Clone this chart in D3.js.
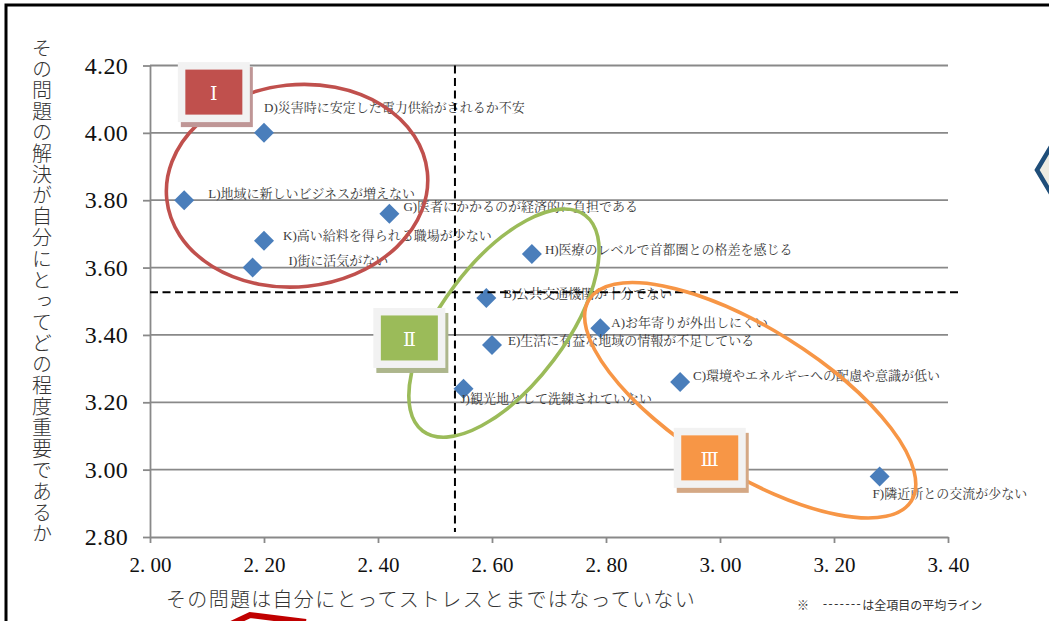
<!DOCTYPE html>
<html>
<head>
<meta charset="utf-8">
<script src="https://cdn.jsdelivr.net/npm/d3@7"></script>
<style>
  html, body { margin: 0; padding: 0; background: #fff; }
  svg { display: block; }
</style>
</head>
<body>
<svg id="chart" width="1049" height="621"></svg>
<script>
// Survey items: how much stress each local problem causes (x) vs. how important solving it is (y)
const itemLabels = [
  "A)お年寄りが外出しにくい",
  "B)公共交通機関が十分でない",
  "C)環境やエネルギーへの配慮や意識が低い",
  "D)災害時に安定した電力供給がされるか不安",
  "E)生活に有益な地域の情報が不足している",
  "F)隣近所との交流が少ない",
  "G)医者にかかるのが経済的に負担である",
  "H)医療のレベルで首都圏との格差を感じる",
  "I)街に活気がない",
  "J)観光地として洗練されていない",
  "K)高い給料を得られる職場が少ない",
  "L)地域に新しいビジネスが増えない"
];
const stressValues     = [2.79, 2.59, 2.93, 2.20, 2.60, 3.28, 2.42, 2.67, 2.18, 2.55, 2.20, 2.06];
const importanceValues = [3.42, 3.51, 3.26, 4.00, 3.37, 2.98, 3.76, 3.64, 3.60, 3.24, 3.68, 3.80];

const xTickValues = [2.00, 2.20, 2.40, 2.60, 2.80, 3.00, 3.20, 3.40];
const yTickValues = [2.80, 3.00, 3.20, 3.40, 3.60, 3.80, 4.00, 4.20];

// Averages over all items (dashed reference lines)
const meanStress = 2.535;
const meanImportance = 3.527;

// Quadrant groups
const groupNames = ["Ⅰ", "Ⅱ", "Ⅲ"];
const groupCentersX = [2.258, 2.621, 3.053];
const groupCentersY = [3.843, 3.435, 3.206];
const badgeX = [2.112, 2.455, 2.982];
const badgeY = [4.121, 3.391, 3.035];

const xTitle = "その問題は自分にとってストレスとまではなっていない";
const yTitle = "その問題の解決が自分にとってどの程度重要であるか";
const noteMark = "※";
const noteText = "は全項目の平均ライン";

// ---------- layout ----------
const svg = d3.select("#chart");
const plot = { left: 150, right: 948, top: 65.5, bottom: 537 };

const x = d3.scaleLinear().domain([2.0, 3.4]).range([plot.left, plot.right]);
const y = d3.scaleLinear().domain([2.8, 4.2]).range([plot.bottom, plot.top]);

const serif = "'Liberation Serif', 'Noto Serif CJK JP', 'Noto Sans CJK JP', serif";
const jp = "'Noto Sans CJK JP', sans-serif";
const gridColor = "#898989";

// ellipse / badge styling per group
const groupColors  = ["#c0504d", "#9bbb59", "#f79646"];
const shadowColors = ["#bf9696", "#adb68c", "#d4a885"];
const ellipseRx = [131, 135, 190];
const ellipseRy = [101, 62, 72];
const ellipseRot = [-6, -53, 32];

// label placement relative to each marker (text start, text middle)
const labelDx = [11, 17, 13, 0, 16, -7, 14, 13, 36, -3, 19, 24];
const labelDy = [-6, -4, -7, -25, -5, 17, -7, -5, -7, 10, -5, -7];

// outer frame
svg.append("rect")
  .attr("x", 6).attr("y", 5).attr("width", 1100).attr("height", 700)
  .attr("fill", "none").attr("stroke", "#000").attr("stroke-width", 3);

// horizontal gridlines
svg.append("g").selectAll("line")
  .data(yTickValues.filter(v => v > 2.8))
  .join("line")
  .attr("x1", plot.left).attr("x2", plot.right)
  .attr("y1", d => y(d)).attr("y2", d => y(d))
  .attr("stroke", gridColor).attr("stroke-width", 1.8);

// axes
const yAxis = svg.append("g")
  .attr("transform", `translate(${plot.left},0)`)
  .call(d3.axisLeft(y).tickValues(yTickValues).tickFormat(d3.format(".2f"))
    .tickSizeInner(7).tickSizeOuter(0).tickPadding(15));
yAxis.select(".domain").attr("stroke", gridColor).attr("stroke-width", 1.8);
yAxis.selectAll(".tick line").attr("stroke", gridColor).attr("stroke-width", 1.8);
yAxis.selectAll(".tick text")
  .attr("font-family", serif).attr("font-size", 24).attr("letter-spacing", 0.3)
  .attr("fill", "#111");

const xAxis = svg.append("g")
  .attr("transform", `translate(0,${plot.bottom})`)
  .call(d3.axisBottom(x).tickValues(xTickValues)
    .tickFormat(d => d.toFixed(2).replace(".", ". "))
    .tickSizeInner(6).tickSizeOuter(0).tickPadding(14));
xAxis.select(".domain").attr("stroke", gridColor).attr("stroke-width", 1.8);
xAxis.selectAll(".tick line").attr("stroke", gridColor).attr("stroke-width", 1.8);
xAxis.selectAll(".tick text")
  .attr("font-family", serif).attr("font-size", 21).attr("fill", "#111")
  .style("white-space", "pre");

// markers
const pts = itemLabels.map((label, i) => ({
  label, sx: stressValues[i], iy: importanceValues[i], dx: labelDx[i], dy: labelDy[i]
}));

svg.append("g").selectAll("path")
  .data(pts)
  .join("path")
  .attr("d", d3.symbol(d3.symbolSquare, 200))
  .attr("transform", d => `translate(${x(d.sx)},${y(d.iy)}) rotate(45)`)
  .attr("fill", "#4a7ebb");

// item labels
svg.append("g").selectAll("text")
  .data(pts)
  .join("text")
  .attr("x", d => x(d.sx) + d.dx)
  .attr("y", d => y(d.iy) + d.dy)
  .attr("dominant-baseline", "central")
  .attr("font-family", serif)
  .attr("font-size", 13)
  .attr("fill", "#3a3a3a")
  .text(d => d.label);

// dashed average lines
svg.append("line")
  .attr("x1", x(meanStress)).attr("x2", x(meanStress))
  .attr("y1", y(4.2)).attr("y2", y(2.8) - 5)
  .attr("stroke", "#000").attr("stroke-width", 2).attr("stroke-dasharray", "8,4.5");
svg.append("line")
  .attr("x1", plot.left).attr("x2", plot.right + 10)
  .attr("y1", y(meanImportance)).attr("y2", y(meanImportance))
  .attr("stroke", "#000").attr("stroke-width", 2).attr("stroke-dasharray", "8,4.5");

// group ellipses
svg.append("g").selectAll("ellipse")
  .data(groupNames.map((g, i) => i))
  .join("ellipse")
  .attr("transform", i => `translate(${x(groupCentersX[i])},${y(groupCentersY[i])}) rotate(${ellipseRot[i]})`)
  .attr("rx", i => ellipseRx[i]).attr("ry", i => ellipseRy[i])
  .attr("fill", "none")
  .attr("stroke", i => groupColors[i])
  .attr("stroke-width", 3.6);

// group badges
const badge = svg.append("g").selectAll("g")
  .data(groupNames.map((g, i) => i))
  .join("g")
  .attr("transform", i => `translate(${x(badgeX[i])},${y(badgeY[i])})`);
badge.append("rect")
  .attr("x", -33).attr("y", -25).attr("width", 72).attr("height", 60)
  .attr("fill", i => shadowColors[i]);
badge.append("rect")
  .attr("x", -36).attr("y", -30).attr("width", 72).attr("height", 60)
  .attr("fill", "#f2f2f2");
badge.append("rect")
  .attr("x", -28.5).attr("y", -22.5).attr("width", 57).attr("height", 45)
  .attr("fill", i => groupColors[i]);
badge.append("text")
  .attr("x", 0).attr("y", 1)
  .attr("text-anchor", "middle").attr("dominant-baseline", "central")
  .attr("font-family", "'DejaVu Serif', 'Liberation Serif', serif")
  .attr("font-size", 19).attr("fill", "#fff")
  .text(i => groupNames[i]);

// axis titles
svg.append("text")
  .attr("x", 431).attr("y", 598)
  .attr("text-anchor", "middle").attr("dominant-baseline", "central")
  .attr("font-family", jp).attr("font-weight", 300)
  .attr("font-size", 20).attr("letter-spacing", 1.3).attr("fill", "#333")
  .text(xTitle);

svg.append("text")
  .attr("x", 42).attr("y", 38)
  .style("writing-mode", "vertical-rl")
  .attr("font-family", jp).attr("font-weight", 300)
  .attr("font-size", 20).attr("letter-spacing", 1.1).attr("fill", "#333")
  .text(yTitle);

// note about the dashed lines
const note = svg.append("text")
  .attr("x", 797).attr("y", 604)
  .attr("dominant-baseline", "central")
  .attr("font-family", jp).attr("font-size", 12).attr("fill", "#333");
note.append("tspan").text(noteMark);
note.append("tspan").attr("x", 823).attr("letter-spacing", 1.6).attr("font-family", serif).text("-------");
note.append("tspan").text(noteText);

// neighbouring slide shapes at the edges
svg.append("polygon")
  .attr("points", "1037,170 1062,128 1087,170 1062,212")
  .attr("fill", "#eeece1").attr("stroke", "#1f4e79").attr("stroke-width", 4.5);
svg.append("path")
  .attr("d", "M229,625 L250,615 L306,622")
  .attr("fill", "none").attr("stroke", "#c00000").attr("stroke-width", 6);
</script>
</body>
</html>
